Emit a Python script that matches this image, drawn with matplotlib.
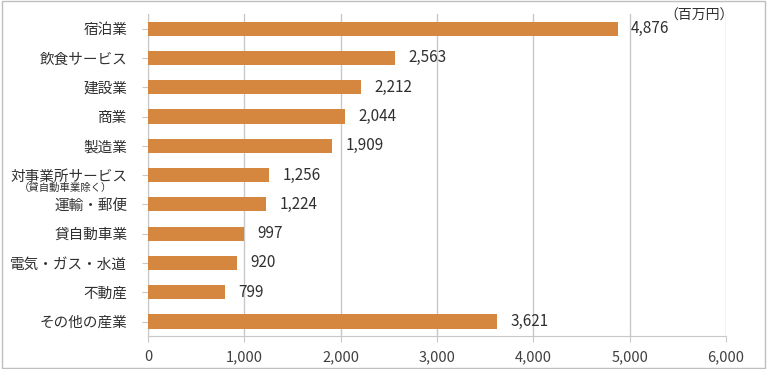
import matplotlib
matplotlib.use("Agg")
import matplotlib.pyplot as plt
from matplotlib.patches import Rectangle

plt.rcParams['font.family'] = ['Noto Sans CJK JP', 'DejaVu Sans']

# 産業別の値(百万円)
industries = ["宿泊業", "飲食サービス", "建設業", "商業", "製造業", "対事業所サービス",
              "運輸・郵便", "貸自動車業", "電気・ガス・水道", "不動産", "その他の産業"]
values = [4876, 2563, 2212, 2044, 1909, 1256, 1224, 997, 920, 799, 3621]
xticks = [0, 1000, 2000, 3000, 4000, 5000, 6000]

bar_color = "#D5873F"
grid_color = "#C8C8C8"

fig = plt.figure(figsize=(7.67, 3.69), dpi=100)
ax = fig.add_axes([0.193, 0.089, 0.7535, 0.873])

y = list(range(len(industries)))
ax.barh(y, values, height=0.48, color=bar_color, zorder=3)
ax.set_ylim(len(industries) - 0.5, -0.5)
ax.set_xlim(0, 6000)

ax.set_xticks(xticks)
ax.set_xticklabels([f"{v:,}" for v in xticks], fontsize=10.5, color="#404040")
ax.set_yticks(y)
ax.set_yticklabels(industries, fontsize=10.5, color="#303030")
# 補足ラベル
ax.text(-0.062, 5.44, "（貸自動車業除く）", transform=ax.get_yaxis_transform(),
        ha="right", va="center", fontsize=7.5, color="#303030")

for yi, v in zip(y, values):
    ax.text(v + 140, yi, f"{v:,}", va="center", ha="left", fontsize=11,
            color="#303030", zorder=4)

ax.text(5720, -0.2, "（百万円）", ha="center", va="bottom", fontsize=10,
        color="#303030", clip_on=False, zorder=5)

ax.grid(axis="x", color=grid_color, linewidth=1, zorder=0)
for s in ["top", "right"]:
    ax.spines[s].set_visible(False)
ax.spines["left"].set_color(grid_color)
ax.spines["bottom"].set_color(grid_color)
ax.tick_params(axis="x", length=4, color=grid_color, pad=6)
ax.tick_params(axis="y", length=4, color=grid_color, pad=11)

# 外枠
fig.patches.append(Rectangle((0.002, 0.003), 0.995, 0.993, transform=fig.transFigure,
                             fill=False, edgecolor="#BFBFBF", linewidth=1))

fig.savefig("out.png", dpi=100)
